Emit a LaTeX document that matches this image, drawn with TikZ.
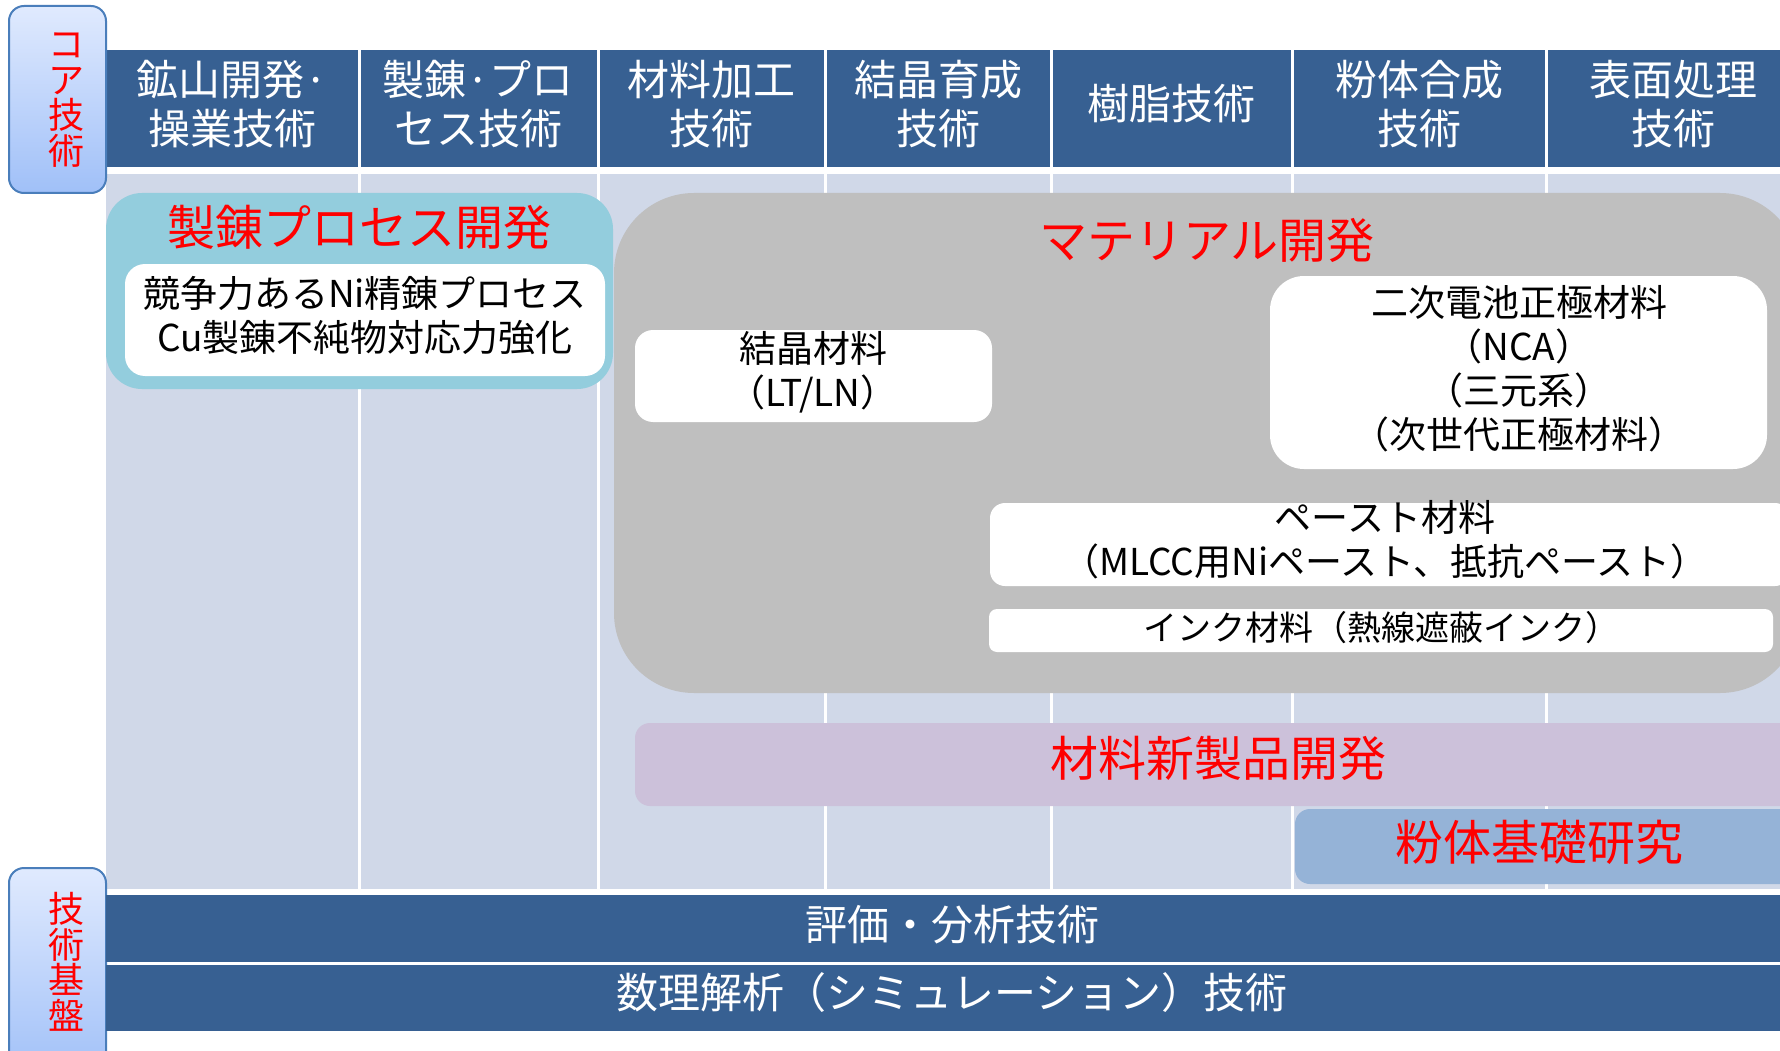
\documentclass[tikz,border=0pt]{standalone}
\usepackage{fontspec}
\setmainfont{Noto Sans CJK JP}
\definecolor{hdr}{HTML}{376092}
\definecolor{gridbg}{HTML}{D0D8E8}
\definecolor{seiren}{HTML}{93CDDD}
\definecolor{matgray}{HTML}{BFBFBF}
\definecolor{newprod}{HTML}{CCC1DA}
\definecolor{powder}{HTML}{95B3D7}
\definecolor{sidetop}{HTML}{E0EAFE}
\definecolor{sidebot}{HTML}{A0C0F8}
\definecolor{sideline}{HTML}{4A7EBB}
\begin{document}
\begin{tikzpicture}[x=1pt,y=-1pt,
  box/.style={anchor=north west, inner sep=0pt, outer sep=0pt},
  hdrtext/.style={text=white, align=center, inner sep=0pt, font=\fontsize{42}{49}\selectfont},
  redtitle/.style={text=red, inner sep=0pt, font=\fontsize{48}{56}\selectfont},
  bodytext/.style={text=black, align=center, inner sep=0pt, font=\fontsize{37}{44}\selectfont},
  sidebox/.style={box, draw=sideline, line width=2pt, rounded corners=15pt, top color=sidetop, bottom color=sidebot, minimum width=97pt},
  sidetext/.style={text=red, align=center, inner sep=0pt, font=\fontsize{36}{35.5}\selectfont},
  divider/.style={draw=white, line width=3pt},
  whitebox/.style={box, fill=white}
]
\useasboundingbox (0,0) rectangle (1780,1051);
\clip (0,0) rectangle (1780,1051);
\fill[white] (0,0) rectangle (1780,1051);

% header bar and grid
\node[box, fill=hdr, minimum width=1694pt, minimum height=117pt] (header) at (106,50) {};
\node[box, fill=gridbg, minimum width=1694pt, minimum height=715pt] (grid) at (106,174) {};
\foreach \x in {359,598,825,1051,1292,1546} {
  \draw[divider] (\x,50) -- (\x,895);
}

% header texts
\node[hdrtext] (c1) at (232,104) {鉱山開発·\\操業技術};
\node[hdrtext] (c2) at (478,104) {製錬·プロ\\セス技術};
\node[hdrtext] (c3) at (711,104) {材料加工\\技術};
\node[hdrtext] (c4) at (938,104) {結晶育成\\技術};
\node[hdrtext] (c5) at (1171,104) {樹脂技術};
\node[hdrtext] (c6) at (1419,104) {粉体合成\\技術};
\node[hdrtext] (c7) at (1673,104) {表面処理\\技術};

% side labels
\node[sidebox, minimum height=187pt] (coreBox) at (9,6) {};
\node[sidetext] (coreText) at (66,100) {コ\\ア\\技\\術};
\node[sidebox, minimum height=210pt] (baseBox) at (9,868) {};
\node[sidetext] (baseText) at (66,962) {技\\術\\基\\盤};

% refining process development
\node[box, fill=seiren, rounded corners=36pt, minimum width=507pt, minimum height=196pt] (seirenBox) at (106,193) {};
\node[redtitle] (seirenTitle) at (359,227) {製錬プロセス開発};
\node[whitebox, rounded corners=20pt, minimum width=480pt, minimum height=112pt] (seirenInner) at (125,264) {};
\node[bodytext] (seirenText) at (365,316) {競争力あるNi精錬プロセス\\Cu製錬不純物対応力強化};

% material development
\node[box, fill=matgray, rounded corners=80pt, minimum width=1186pt, minimum height=500pt] (matBox) at (614,193) {};
\node[redtitle] (matTitle) at (1207,240) {マテリアル開発};
\node[whitebox, rounded corners=18pt, minimum width=357pt, minimum height=92pt] (crystBox) at (635,330) {};
\node[bodytext] (crystText) at (813,372) {結晶材料\\（LT/LN）};
\node[whitebox, rounded corners=34pt, minimum width=497pt, minimum height=193pt] (battBox) at (1270,276) {};
\node[bodytext] (battText) at (1519,369) {二次電池正極材料\\（NCA）\\（三元系）\\（次世代正極材料）};
\node[whitebox, rounded corners=15pt, minimum width=800pt, minimum height=83pt] (pasteBox) at (990,503) {};
\node[bodytext] (pasteText) at (1385,540) {ペースト材料\\（MLCC用Niペースト、抵抗ペースト）};
\node[whitebox, rounded corners=8pt, minimum width=784pt, minimum height=43pt] (inkBox) at (989,609) {};
\node[text=black, inner sep=0pt, font=\fontsize{34}{40}\selectfont] (inkText) at (1381,628) {インク材料（熱線遮蔽インク）};

% new product development
\node[box, fill=newprod, rounded corners=15pt, minimum width=1180pt, minimum height=83pt] (newBox) at (635,723) {};
\node[redtitle] (newTitle) at (1218,758) {材料新製品開発};

% powder fundamental research
\node[box, fill=powder, rounded corners=15pt, minimum width=520pt, minimum height=75pt] (powderBox) at (1295,809) {};
\node[redtitle] (powderTitle) at (1539,842) {粉体基礎研究};

% bottom bands
\node[box, fill=hdr, minimum width=1694pt, minimum height=67pt] (band1) at (106,895) {};
\node[hdrtext] (band1Text) at (952,925) {評価・分析技術};
\node[box, fill=hdr, minimum width=1694pt, minimum height=66pt] (band2) at (106,965) {};
\node[hdrtext] (band2Text) at (952,993) {数理解析（シミュレーション）技術};
\end{tikzpicture}
\end{document}
